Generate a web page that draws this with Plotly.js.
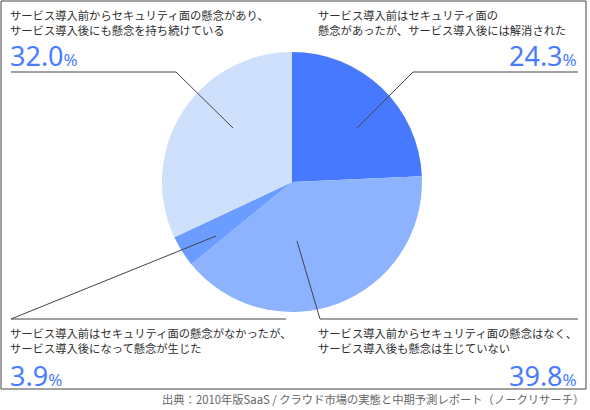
<!DOCTYPE html>
<html>
<head>
<meta charset="utf-8">
<script src="https://cdn.plot.ly/plotly-3.0.1.min.js"></script>
<style>
  body { margin: 0; background: #fff; }
  #myDiv { width: 590px; height: 410px; }
</style>
</head>
<body>
<div id="myDiv"></div>
<script>
// NOTE: slices go clockwise from 12 o'clock
var labels = [
  'サービス導入前はセキュリティ面の<br>懸念があったが、サービス導入後には解消された',
  'サービス導入前からセキュリティ面の懸念はなく、<br>サービス導入後も懸念は生じていない',
  'サービス導入前はセキュリティ面の懸念がなかったが、<br>サービス導入後になって懸念が生じた',
  'サービス導入前からセキュリティ面の懸念があり、<br>サービス導入後にも懸念を持ち続けている',
];
var values = [24.3, 39.8, 3.9, 32.0];
var sliceColors = ['#4679fe', '#8db3fe', '#6b9cff', '#cfe0fd'];
var source = '出典：2010年版SaaS / クラウド市場の実態と中期予測レポート（ノークリサーチ）';

var W = 590, H = 410;
function px(x) { return x / W; }
function py(y) { return 1 - y / H; }

var jpFont = '"Noto Sans CJK JP", "Noto Sans", sans-serif';
var textColor = '#2e2e2e';
var pctColor = '#4a7cff';
var lineColor = '#444444';

// label block positions: x of percent, y of text centre, y of percent, align
var labelPos = [
  { x: 577, yText: 22.5, yPct: 55, align: 'right', xText: 318 },
  { x: 577, yText: 340, yPct: 375, align: 'right', xText: 318 },
  { x: 10, yText: 340, yPct: 375, align: 'left', xText: 10 },
  { x: 10, yText: 22.5, yPct: 55, align: 'left', xText: 10 },
];

// NOTE: leader lines, pixel points from slice to underline
var leaders = [
  [[357, 128], [413, 72], [578, 72]],
  [[297, 241], [320, 319], [578, 319]],
  [[216, 236], [11, 319], [286, 319]],
  [[233, 128], [176, 72], [11, 72]],
];

var trace = {
  type: 'pie',
  values: values,
  labels: labels,
  sort: false,
  direction: 'clockwise',
  rotation: 0,
  textinfo: 'none',
  hoverinfo: 'skip',
  marker: { colors: sliceColors, line: { width: 0 } },
  domain: { x: [px(292 - 130), px(292 + 130)], y: [py(182 + 130), py(182 - 130)] },
  showlegend: false,
};

var annotations = [];
labels.forEach(function (lab, i) {
  var p = labelPos[i];
  annotations.push({
    xref: 'paper', yref: 'paper',
    x: px(p.xText - 2), y: py(p.yText),
    xanchor: 'left', yanchor: 'middle',
    text: lab, showarrow: false, align: 'left',
    font: { family: jpFont, size: 11.3, color: textColor },
  });
  annotations.push({
    xref: 'paper', yref: 'paper',
    x: px(p.align == 'left' ? p.x - 2 : p.x + 2), y: py(p.yPct),
    xanchor: p.align, yanchor: 'middle',
    text: values[i].toFixed(1) + '<span style="font-size:17px">%</span>',
    showarrow: false,
    font: { family: '"Noto Sans", sans-serif', size: 27, color: pctColor },
  });
});
annotations.push({
  xref: 'paper', yref: 'paper',
  x: px(586), y: py(399),
  xanchor: 'right', yanchor: 'middle',
  text: source, showarrow: false,
  font: { family: jpFont, size: 11.3, color: '#666666' },
});

var shapes = [{
  type: 'rect', xref: 'paper', yref: 'paper',
  x0: px(1), x1: px(586), y0: py(389), y1: py(1),
  line: { color: lineColor, width: 1 },
}];
leaders.forEach(function (pts) {
  for (var k = 0; k < pts.length - 1; k++) {
    shapes.push({
      type: 'line', xref: 'paper', yref: 'paper',
      x0: px(pts[k][0]), y0: py(pts[k][1]),
      x1: px(pts[k + 1][0]), y1: py(pts[k + 1][1]),
      line: { color: lineColor, width: 1 },
    });
  }
});

var layout = {
  width: W, height: H,
  margin: { l: 0, r: 0, t: 0, b: 0 },
  paper_bgcolor: '#ffffff',
  showlegend: false,
  annotations: annotations,
  shapes: shapes,
};

Plotly.newPlot('myDiv', [trace], layout, { displayModeBar: false, staticPlot: true });
</script>
</body>
</html>
